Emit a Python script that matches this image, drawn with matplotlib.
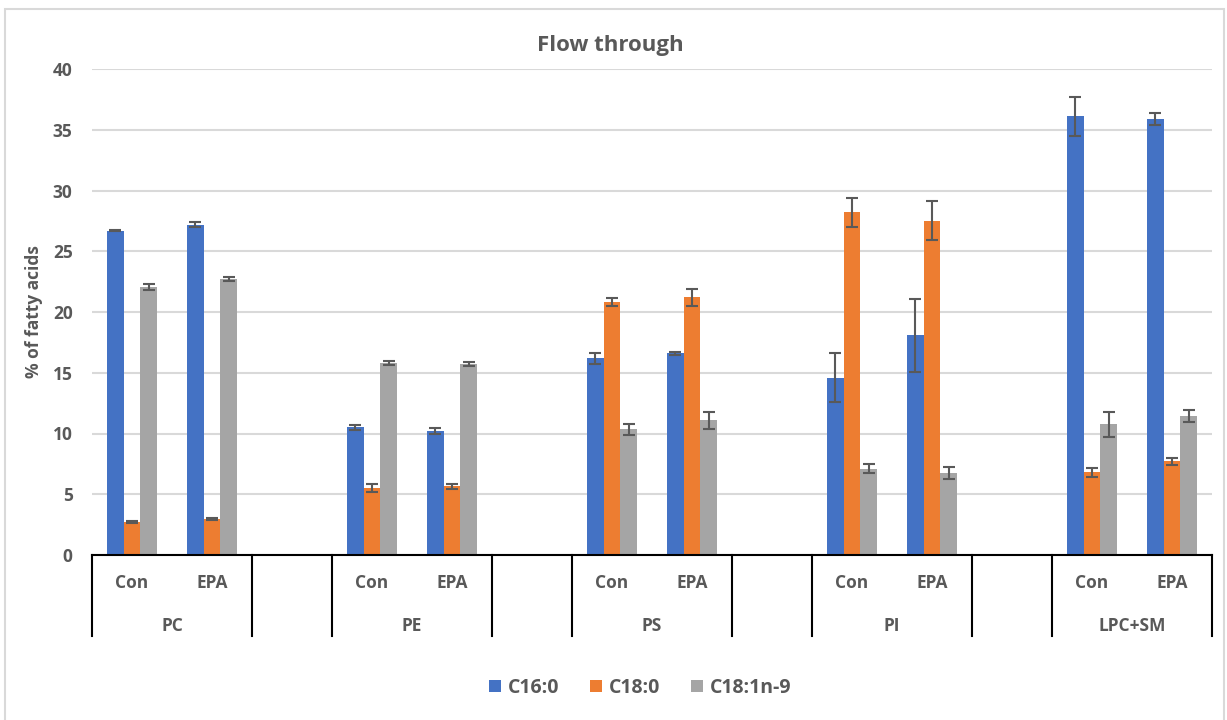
import numpy as np
import matplotlib.pyplot as plt
from matplotlib.patches import Rectangle
from matplotlib.transforms import blended_transform_factory

plt.rcParams['font.family'] = ['Open Sans', 'DejaVu Sans']
plt.rcParams['font.weight'] = 'bold'

groups = ['PC', 'PE', 'PS', 'PI', 'LPC+SM']
treatments = ['Con', 'EPA']
series = ['C16:0', 'C18:0', 'C18:1n-9']
colors = ['#4472C4', '#ED7D31', '#A5A5A5']

# mean % per group, order: PC Con, PC EPA, PE Con, PE EPA, ...
c16 = [26.7, 27.2, 10.5, 10.2, 16.2, 16.6, 14.6, 18.1, 36.1, 35.9]
c18 = [2.75, 2.95, 5.5, 5.65, 20.8, 21.2, 28.2, 27.5, 6.8, 7.7]
c18_1 = [22.05, 22.7, 15.8, 15.7, 10.35, 11.1, 7.1, 6.75, 10.75, 11.45]

c16_err = [0.05, 0.2, 0.2, 0.25, 0.45, 0.1, 2.0, 3.0, 1.6, 0.5]
c18_err = [0.08, 0.08, 0.33, 0.18, 0.32, 0.7, 1.2, 1.6, 0.36, 0.27]
c18_1_err = [0.25, 0.18, 0.18, 0.18, 0.47, 0.7, 0.36, 0.52, 1.0, 0.5]

values = [c16, c18, c18_1]
errors = [c16_err, c18_err, c18_1_err]

# each group takes two slots plus one empty slot, last group has none
slot = []
for g in range(len(groups)):
    slot += [3 * g, 3 * g + 1]
slot = np.array(slot) + 0.5
n_slots = 3 * len(groups) - 1

fig = plt.figure(figsize=(12.27, 7.2), dpi=100)
ax = fig.add_axes([92 / 1227, 1 - 555 / 720, (1212 - 92) / 1227, (555 - 69) / 720])

w = 0.21
for k in range(3):
    ax.bar(slot + (k - 1) * w, values[k], w, color=colors[k], label=series[k],
           zorder=2)
    ax.errorbar(slot + (k - 1) * w, values[k], yerr=errors[k], fmt='none',
                ecolor='#595959', elinewidth=1.5, capsize=4, capthick=1.5,
                zorder=3)

ax.set_xlim(0, n_slots)
ax.set_ylim(0, 40)
ax.set_yticks(range(0, 41, 5))
ax.yaxis.grid(True, color='#D9D9D9', linewidth=1.5, zorder=0)
ax.tick_params(axis='y', length=0, pad=14, labelsize=12.5, labelcolor='#595959')
for t in ax.get_yticklabels():
    t.set_fontweight('bold')
ax.set_xticks([])
for s in ['left', 'right', 'top']:
    ax.spines[s].set_visible(False)
ax.spines['bottom'].set_color('black')
ax.spines['bottom'].set_linewidth(1.5)

# category table under the axis
tr = blended_transform_factory(ax.transData, ax.transAxes)
depth = -(636 - 555) / (555 - 69)
edges = [0]
for g in range(len(groups)):
    edges += [3 * g + 2]
    if g < len(groups) - 1:
        edges += [3 * g + 3]
edges[-1] = n_slots
for x in edges:
    ax.plot([x, x], [0, depth], color='black', lw=1.5, transform=tr,
            clip_on=False)
for i, x in enumerate(slot):
    ax.text(x, -(583 - 555) / 486, treatments[i % 2], transform=tr,
            ha='center', va='center', fontsize=12.5, fontweight='bold',
            color='#595959')
for g, name in enumerate(groups):
    ax.text(3 * g + 1, -(626 - 555) / 486, name, transform=tr,
            ha='center', va='center', fontsize=12.5, fontweight='bold',
            color='#595959')

ax.set_ylabel('% of fatty acids', fontsize=12.5, fontweight='bold',
              color='#595959', labelpad=7)
fig.text(610 / 1227, 1 - 46 / 720, 'Flow through', ha='center', va='center',
         fontsize=16, fontweight='bold', color='#595959')

handles, labels = ax.get_legend_handles_labels()
leg = fig.legend(handles, labels, loc='center',
                 bbox_to_anchor=(640 / 1227, 1 - 688 / 720), ncol=3,
                 frameon=False, prop={'size': 14, 'weight': 'bold'},
                 labelcolor='#595959', handlelength=0.6, handleheight=0.6,
                 handletextpad=0.35, columnspacing=1.6)

fig.add_artist(Rectangle((5 / 1227, -0.02), (1224 - 5) / 1227, 1.02 - 9 / 720,
                         transform=fig.transFigure, fill=False,
                         edgecolor='#D9D9D9', lw=1.5))

fig.savefig('out.png', dpi=100)
